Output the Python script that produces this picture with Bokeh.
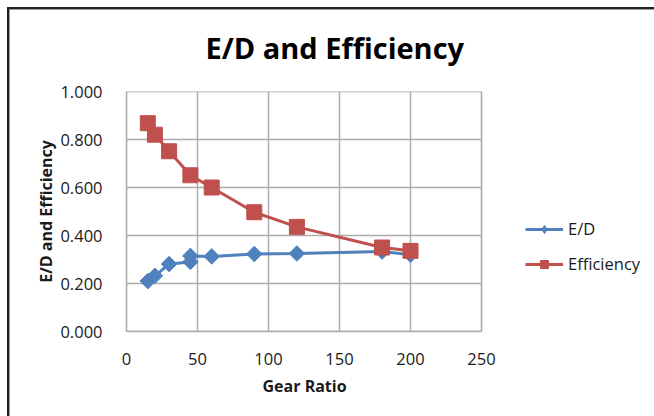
import numpy as np
from bokeh.plotting import figure
from bokeh.models import (ColumnDataSource, Legend, LegendItem, BoxAnnotation, Title,
                          FixedTicker, NumeralTickFormatter, Range1d)
from bokeh.embed import file_html
from bokeh.resources import INLINE

# ---- data ----
ed_ratio = [15, 20, 30, 45, 45, 60, 90, 120, 180, 200]
ed_vals = [0.210, 0.232, 0.281, 0.290, 0.315, 0.313, 0.323, 0.325, 0.333, 0.320]
eff_ratio = [15, 20, 30, 45, 60, 90, 120, 180, 200]
eff_vals = [0.868, 0.820, 0.751, 0.651, 0.600, 0.497, 0.436, 0.350, 0.336]
x_ticks = [0, 50, 100, 150, 200, 250]
y_ticks = [0.0, 0.2, 0.4, 0.6, 0.8, 1.0]
title_text = "E/D and Efficiency"
x_title = "Gear Ratio"
y_title = "E/D and Efficiency"
series_names = ["E/D", "Efficiency"]

BLUE = "#4F81BD"
RED = "#C0504D"
FONT = "Open Sans"
TXT = "#1a1a1a"
GRID = "#ababab"

W, H = 654, 416
FL, FR, FT, FB = 126, 481, 91, 331
XMAX, YMAX = x_ticks[-1], y_ticks[-1]
# the frame extends right to the window edge so the legend can live inside it
x_end = XMAX * (W - FL) / (FR - FL)

p = figure(width=W, height=H, output_backend="svg", toolbar_location=None,
           x_range=Range1d(0, x_end), y_range=Range1d(0, YMAX),
           min_border_left=FL, min_border_right=0,
           min_border_top=FT, min_border_bottom=H - FB)
p.outline_line_color = None
p.background_fill_color = "white"
p.border_fill_alpha = 0
p.styles = {
    "background": ("linear-gradient(#222,#222) 7px 7px / 2px 100% no-repeat, "
                   "linear-gradient(#222,#222) 7px 7px / 100% 2px no-repeat, "
                   "linear-gradient(#999,#999) 9px 9px / 1px 100% no-repeat, "
                   "linear-gradient(#999,#999) 9px 9px / 100% 1px no-repeat, white"),
}

# horizontal gridlines limited to the plot area
p.ygrid.visible = False
p.segment(x0=[0] * len(y_ticks), x1=[XMAX] * len(y_ticks), y0=y_ticks, y1=y_ticks,
          line_color=GRID, line_width=1.5, level="underlay")
# right edge of plot area
p.add_layout(BoxAnnotation(left=0, right=XMAX, bottom=0, top=YMAX, fill_alpha=0,
                           line_color=GRID, line_width=1.5, level="underlay"))

ed_src = ColumnDataSource(dict(x=ed_ratio, y=ed_vals))
eff_src = ColumnDataSource(dict(x=eff_ratio, y=eff_vals))

l1 = p.line("x", "y", source=ed_src, line_color=BLUE, line_width=3)
# small legend-size markers, hidden underneath the plotted markers
k1 = p.scatter("x", "y", source=ed_src, marker="diamond", size=12,
               fill_color=BLUE, line_color=BLUE)
m1 = p.scatter("x", "y", source=ed_src, marker="square", angle=np.pi / 4, size=11,
               fill_color=BLUE, line_color=BLUE)
l2 = p.line("x", "y", source=eff_src, line_color=RED, line_width=3)
k2 = p.scatter("x", "y", source=eff_src, marker="square", size=10,
               fill_color=RED, line_color=RED)
m2 = p.scatter("x", "y", source=eff_src, marker="square", size=15,
               fill_color=RED, line_color=RED)

# axes
p.xaxis.ticker = FixedTicker(ticks=x_ticks)
p.yaxis.ticker = FixedTicker(ticks=y_ticks)
p.xaxis.bounds = (0, XMAX)
p.yaxis.formatter = NumeralTickFormatter(format="0.000")
for ax in (p.xaxis, p.yaxis):
    ax.axis_line_color = GRID
    ax.axis_line_width = 1.5
    ax.major_tick_line_color = None
    ax.minor_tick_line_color = None
    ax.major_label_text_font = FONT
    ax.major_label_text_font_size = "16.5px"
    ax.major_label_text_color = TXT
    ax.axis_label_text_font = FONT
    ax.axis_label_text_font_size = "16px"
    ax.axis_label_text_font_style = "bold"
    ax.axis_label_text_color = TXT
p.yaxis.axis_label = y_title
p.xaxis.major_label_standoff = 15
p.yaxis.major_label_standoff = 18
p.yaxis.axis_label_standoff = 0

p.xgrid.grid_line_color = GRID
p.xgrid.grid_line_width = 1.5
p.xgrid.bounds = (0, XMAX)

# x axis title, centred under the plot area
p.add_layout(Title(text=x_title, align="left", offset=262 - FL, standoff=10,
                   text_font=FONT, text_font_size="16px", text_font_style="bold",
                   text_color=TXT), "below")

# chart title
p.title.text = title_text
p.title.text_font = FONT
p.title.text_font_size = "29px"
p.title.text_font_style = "bold"
p.title.text_color = "black"
p.title.align = "left"
p.title.offset = 205 - FL
p.title.standoff = 50

legend = Legend(items=[LegendItem(label=series_names[0], renderers=[l1, k1]),
                       LegendItem(label=series_names[1], renderers=[l2, k2])],
                location=(525 - FL, 56), orientation="vertical",
                glyph_width=38, glyph_height=20, label_height=20, spacing=12,
                label_standoff=5, padding=0, margin=0,
                border_line_alpha=0, background_fill_alpha=0,
                label_text_font=FONT, label_text_font_size="16.5px", label_text_color=TXT)
p.add_layout(legend)

open("out.html", "w").write(file_html(p, INLINE))
